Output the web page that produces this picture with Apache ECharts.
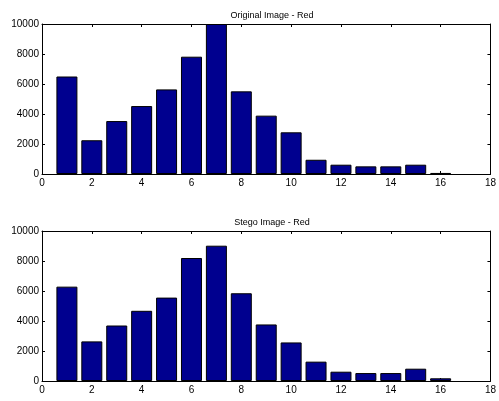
<!DOCTYPE html>
<html>
<head>
<meta charset="utf-8">
<script src="https://cdn.jsdelivr.net/npm/echarts@6/dist/echarts.min.js"></script>
<style>
  html, body { margin: 0; padding: 0; background: #fff; }
  #chart { width: 499px; height: 401px; }
</style>
</head>
<body>
<div id="chart"></div>
<script>
var bins = [1, 2, 3, 4, 5, 6, 7, 8, 9, 10, 11, 12, 13, 14, 15, 16];
var originalRed = [6500, 2250, 3530, 4530, 5640, 7820, 10000, 5510, 3890, 2780, 950, 620, 510, 510, 620, 70];
var stegoRed = [6290, 2640, 3700, 4680, 5560, 8200, 9020, 5850, 3770, 2570, 1290, 620, 530, 530, 820, 180];
var titles = ['Original Image - Red', 'Stego Image - Red'];

var font = 'Liberation Sans, Arial, sans-serif';

function pairs(values) {
    var out = [];
    for (var i = 0; i < bins.length; i++) {
        out.push([bins[i], values[i]]);
    }
    return out;
}

function plain(v) { return String(v); }

function xAxisFor(gridIndex, top) {
    return {
        type: 'value',
        gridIndex: gridIndex,
        position: top ? 'top' : 'bottom',
        min: 0, max: 18, interval: 2,
        axisLine: {show: true, onZero: false, lineStyle: {color: '#000', width: 1}},
        axisTick: {show: true, inside: true, length: 3, lineStyle: {color: '#000'}},
        axisLabel: {show: !top, color: '#000', fontSize: 10, fontFamily: font, margin: 4, formatter: plain},
        splitLine: {show: false}
    };
}

function yAxisFor(gridIndex, right) {
    return {
        type: 'value',
        gridIndex: gridIndex,
        position: right ? 'right' : 'left',
        min: 0, max: 10000, interval: 2000,
        axisLine: {show: true, onZero: false, lineStyle: {color: '#000', width: 1}},
        axisTick: {show: true, inside: true, length: 3, lineStyle: {color: '#000'}},
        axisLabel: {show: !right, color: '#000', fontSize: 10, fontFamily: font, margin: 3, formatter: plain},
        splitLine: {show: false}
    };
}

var myChart = echarts.init(document.getElementById('chart'));
myChart.setOption({
    backgroundColor: '#fff',
    animation: false,
    title: [
        {text: titles[0], left: 267, top: 6, textAlign: 'center',
         textStyle: {fontSize: 9, fontWeight: 'normal', color: '#000', fontFamily: font}},
        {text: titles[1], left: 267, top: 213, textAlign: 'center',
         textStyle: {fontSize: 9, fontWeight: 'normal', color: '#000', fontFamily: font}}
    ],
    grid: [
        {left: 42, right: 6, top: 24, height: 150},
        {left: 42, right: 6, top: 231, height: 150}
    ],
    xAxis: [xAxisFor(0, false), xAxisFor(0, true), xAxisFor(1, false), xAxisFor(1, true)],
    yAxis: [yAxisFor(0, false), yAxisFor(0, true), yAxisFor(1, false), yAxisFor(1, true)],
    series: [
        {
            name: titles[0],
            type: 'bar',
            xAxisIndex: 0,
            yAxisIndex: 0,
            barWidth: 21,
            data: pairs(originalRed),
            itemStyle: {color: '#00008f', borderColor: '#000', borderWidth: 1}
        },
        {
            name: titles[1],
            type: 'bar',
            xAxisIndex: 2,
            yAxisIndex: 2,
            barWidth: 21,
            data: pairs(stegoRed),
            itemStyle: {color: '#00008f', borderColor: '#000', borderWidth: 1}
        }
    ]
});
</script>
</body>
</html>
